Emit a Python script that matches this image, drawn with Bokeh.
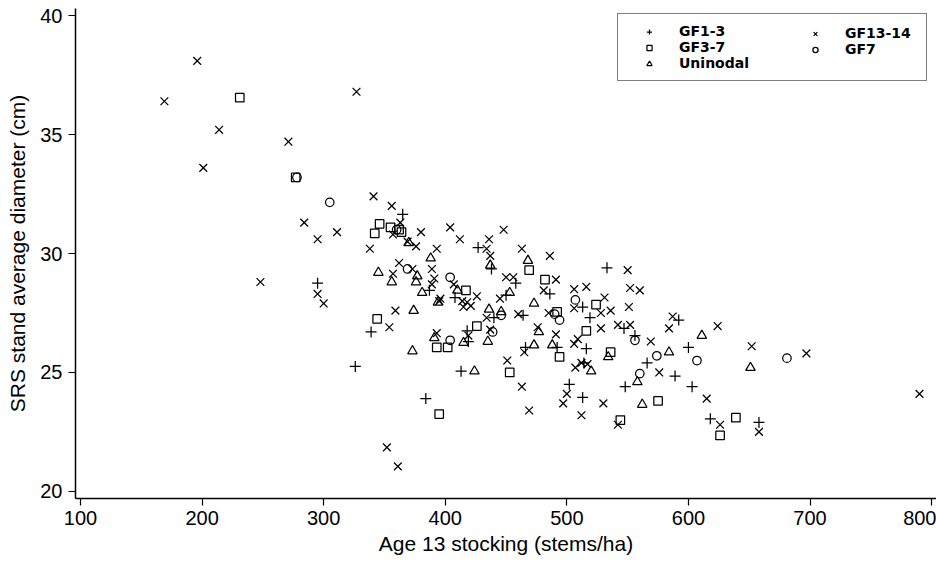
from bokeh.plotting import figure
from bokeh.models import Range1d, FixedTicker, Legend, LegendItem
from bokeh.embed import file_html
from bokeh.resources import INLINE

# GF13-14 (x markers)
gf13_x = [196, 169, 214, 201, 271, 327, 284, 295, 311, 248, 295, 300, 341, 356, 363, 357, 380,
          338, 369, 376, 393, 404, 412, 434, 436, 437, 448, 362, 357, 373, 389, 391, 389, 407,
          396, 426, 414, 418, 415, 421, 395, 359, 354, 393, 419, 352, 361, 463, 486, 450, 456,
          491, 445, 481, 506, 516, 506, 531, 528, 536, 551, 550, 552, 560, 434, 460, 485, 437,
          476, 491, 506, 509, 465, 451, 507, 512, 517, 463, 500, 497, 469, 530, 512, 542, 528,
          542, 552, 587, 584, 624, 569, 576, 652, 697, 790, 615, 626, 658]
gf13_y = [38.1, 36.4, 35.2, 33.6, 34.7, 36.8, 31.3, 30.6, 30.9, 28.8, 28.3, 27.9, 32.4, 32.0,
          31.3, 30.8, 30.9, 30.2, 30.5, 30.3, 30.2, 31.1, 30.6, 30.2, 30.6, 29.9, 31.0, 29.6,
          29.15, 29.35, 29.35, 28.95, 28.7, 28.7, 28.1, 28.2, 28.0, 27.95, 27.75, 27.8, 28.0,
          27.6, 26.9, 26.65, 26.55, 21.85, 21.05, 30.2, 29.9, 29.0, 29.0, 28.9, 28.1, 28.45,
          28.5, 28.6, 27.7, 28.15, 27.5, 27.6, 27.75, 29.3, 28.55, 28.45, 27.3, 27.45, 27.5,
          26.8, 26.9, 26.6, 26.2, 26.4, 25.85, 25.5, 25.2, 25.4, 25.35, 24.4, 24.1, 23.7, 23.4,
          23.7, 23.2, 22.8, 26.85, 27.0, 27.0, 27.35, 26.85, 26.95, 26.3, 25.0, 26.1, 25.8,
          24.1, 23.9, 22.8, 22.5]

# GF1-3 (+ markers)
gf1_x = [365, 427, 438, 295, 387, 408, 339, 326, 418, 419, 413, 384, 440, 458, 450, 486, 533,
         513, 519, 547, 592, 464, 466, 492, 516, 514, 502, 513, 566, 589, 556, 600, 548, 603,
         618, 658]
gf1_y = [31.65, 30.25, 29.35, 28.75, 28.45, 28.15, 26.7, 25.25, 26.75, 26.3, 25.05, 23.9, 27.3,
         28.75, 28.25, 28.3, 29.4, 27.75, 27.3, 26.85, 27.2, 27.4, 26.05, 26.05, 26.0, 25.4,
         24.5, 23.95, 25.4, 24.85, 26.55, 26.05, 24.4, 24.4, 23.05, 22.9]

# GF3-7 (square markers)
gf3_x = [231, 277, 346, 342, 355, 362, 364, 417, 344, 393, 402, 426, 395, 469, 482, 524, 492,
         516, 494, 453, 536, 544, 575, 639, 626]
gf3_y = [36.55, 33.2, 31.25, 30.85, 31.1, 31.0, 30.9, 28.45, 27.25, 26.05, 26.05, 26.95, 23.25,
         29.3, 28.9, 27.85, 27.55, 26.75, 25.65, 25.0, 25.85, 23.0, 23.8, 23.1, 22.35]

# GF7 (circle markers)
gf7_x = [278, 305, 360, 369, 404, 404, 439, 507, 490, 494, 556, 574, 560, 607, 681, 446]
gf7_y = [33.2, 32.15, 31.0, 29.35, 29.0, 26.35, 26.7, 28.05, 27.45, 27.2, 26.35, 25.7, 24.95,
         25.5, 25.6, 27.4]

# Uninodal (triangle markers)
uni_x = [370, 388, 437, 345, 356, 377, 376, 381, 410, 394, 374, 391, 415, 373, 424, 468, 453,
         473, 436, 446, 435, 477, 488, 473, 534, 520, 558, 584, 562, 611, 651]
uni_y = [30.45, 29.8, 29.5, 29.2, 28.8, 29.05, 28.8, 28.35, 28.45, 27.95, 27.6, 26.45, 26.25,
         25.9, 25.05, 29.7, 28.35, 27.9, 27.65, 27.55, 26.3, 26.7, 26.15, 26.15, 25.65, 25.05,
         24.6, 25.85, 23.65, 26.55, 25.2]

x_ticks = [100, 200, 300, 400, 500, 600, 700, 800]
y_ticks = [20, 25, 30, 35, 40]

FONT = "Liberation Sans"

p = figure(width=936, height=564, output_backend="svg", toolbar_location=None,
           x_range=Range1d(95.9, 804), y_range=Range1d(19.7, 40.3),
           min_border_left=75, min_border_right=0, min_border_top=8, min_border_bottom=66)
p.outline_line_color = None
p.xgrid.visible = False
p.ygrid.visible = False
p.background_fill_color = "white"

common = dict(fill_color=None, line_color="black", line_width=1.25)
r_gf1 = p.scatter(gf1_x, gf1_y, marker="cross", size=11, **common)
r_gf3 = p.scatter(gf3_x, gf3_y, marker="square", size=8.5, **common)
r_uni = p.scatter(uni_x, uni_y, marker="triangle", size=9.5, **common)
r_gf13 = p.scatter(gf13_x, gf13_y, marker="x", size=11, **common)
r_gf7 = p.scatter(gf7_x, gf7_y, marker="circle", size=8.5, **common)

for ax in (p.xaxis[0], p.yaxis[0]):
    ax.axis_line_color = "black"
    ax.axis_line_width = 1.5
    ax.major_tick_line_color = "black"
    ax.major_tick_line_width = 1.2
    ax.major_tick_in = 0
    ax.major_tick_out = 7
    ax.minor_tick_line_color = None
    ax.major_label_text_font = FONT
    ax.major_label_text_font_size = "20px"
    ax.major_label_text_color = "black"
    ax.axis_label_text_font = FONT
    ax.axis_label_text_font_size = "21px"
    ax.axis_label_text_font_style = "normal"
    ax.axis_label_text_color = "black"

p.xaxis.ticker = FixedTicker(ticks=x_ticks)
p.yaxis.ticker = FixedTicker(ticks=y_ticks)
p.xaxis.axis_label = "Age 13 stocking (stems/ha)"
p.yaxis.axis_label = "SRS stand average diameter (cm)"
p.xaxis.major_label_standoff = 5
p.yaxis.major_label_standoff = 6
p.xaxis.axis_label_standoff = 4
p.yaxis.axis_label_standoff = 8


def style_legend(lg):
    lg.label_text_font = "DejaVu Sans"
    lg.label_text_font_style = "bold"
    lg.label_text_font_size = "14px"
    lg.label_text_color = "black"
    lg.glyph_width = 44
    lg.glyph_height = 13
    lg.label_height = 13
    lg.spacing = -3
    lg.padding = 9
    lg.margin = 0
    lg.label_standoff = 8


legend1 = Legend(items=[
    LegendItem(label="GF1-3", renderers=[r_gf1]),
    LegendItem(label="GF3-7", renderers=[r_gf3]),
    LegendItem(label="Uninodal", renderers=[r_uni]),
], location=(542, 417))
style_legend(legend1)
legend1.label_width = 238
legend1.border_line_color = "black"
legend1.border_line_width = 1
legend1.background_fill_color = "white"
legend1.background_fill_alpha = 1

legend2 = Legend(items=[
    LegendItem(label="GF13-14", renderers=[r_gf13]),
    LegendItem(label="GF7", renderers=[r_gf7]),
], location=(718, 441))
style_legend(legend2)
legend2.border_line_color = None
legend2.background_fill_alpha = 0

p.add_layout(legend1, "center")
p.add_layout(legend2, "center")

open("out.html", "w").write(file_html(p, INLINE))
